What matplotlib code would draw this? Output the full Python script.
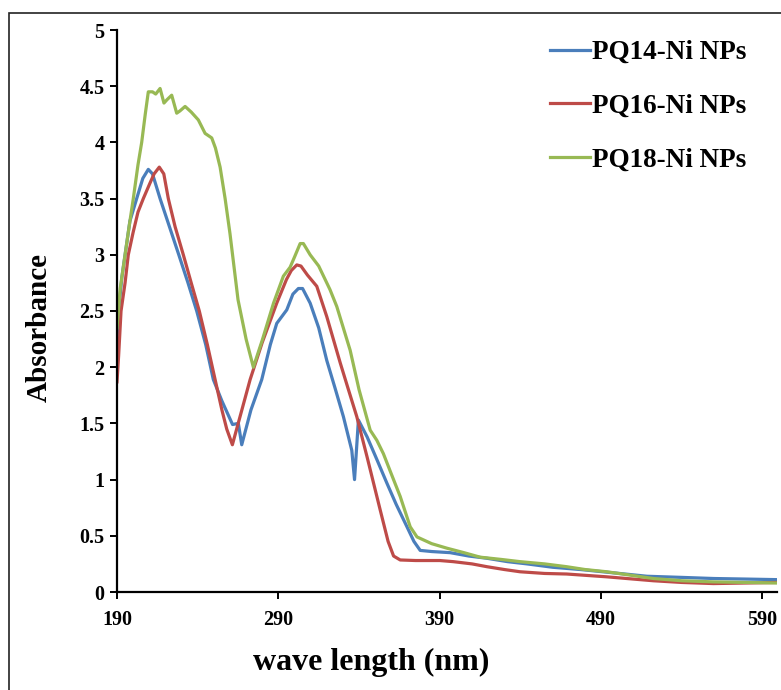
import matplotlib
matplotlib.use("Agg")
import matplotlib.pyplot as plt
from matplotlib.patches import Rectangle
from matplotlib.ticker import FuncFormatter

# UV-Vis absorbance spectra of the three nanoparticle samples
labels = ["PQ14-Ni NPs", "PQ16-Ni NPs", "PQ18-Ni NPs"]
colors = ["#4A7EBB", "#BE4B48", "#98B954"]

pq14_x = [190, 191, 193, 195, 198, 202.2, 206, 209.4, 212, 216.7, 222.5, 228.3, 234,
          239.4, 245, 249.7, 255, 261.6, 265.2, 267.3, 273, 279.7, 285, 289, 295.2,
          299, 302.4, 305, 309.7, 315, 320, 325, 330.3, 335.5, 337.2, 339.6, 345, 351,
          357.2, 363, 369.7, 374, 377.9, 385, 396.5, 408, 419.3, 432, 444.1, 460,
          477.1, 498, 518.5, 540, 559.8, 580, 599]
pq14_y = [2.25, 2.5, 2.8, 3.0, 3.3, 3.5, 3.68, 3.76, 3.72, 3.5, 3.25, 3.0, 2.75,
          2.5, 2.2, 1.89, 1.7, 1.49, 1.5, 1.31, 1.62, 1.89, 2.2, 2.39, 2.51,
          2.65, 2.70, 2.70, 2.57, 2.35, 2.06, 1.82, 1.56, 1.26, 1.0, 1.53, 1.38, 1.18,
          0.97, 0.78, 0.58, 0.45, 0.37, 0.36, 0.35, 0.32, 0.30, 0.27, 0.25, 0.22,
          0.20, 0.17, 0.14, 0.13, 0.12, 0.115, 0.11]

pq16_x = [190, 191, 192.5, 195, 197, 200, 203, 206.3, 210.5, 213, 216.2, 219, 221.8,
          226, 231.1, 236, 241, 246, 250.8, 255, 258, 261.5, 267, 272.5, 280, 289,
          295, 298, 301.4, 304, 308, 313.8, 320, 328.3, 333, 338.6, 345, 353.1, 358,
          361.4, 365.5, 375, 390, 398.4, 410, 419.3, 430, 439.8, 455, 468.7, 493.5,
          510, 522.4, 540, 559.6, 580, 599]
pq16_y = [1.87, 2.1, 2.5, 2.75, 3.0, 3.2, 3.38, 3.5, 3.64, 3.72, 3.78, 3.72, 3.5,
          3.25, 3.0, 2.75, 2.5, 2.2, 1.89, 1.62, 1.45, 1.31, 1.6, 1.89, 2.22, 2.57,
          2.78, 2.86, 2.91, 2.90, 2.82, 2.72, 2.45, 2.04, 1.82, 1.56, 1.2, 0.73, 0.45,
          0.32, 0.285, 0.28, 0.28, 0.27, 0.25, 0.225, 0.20, 0.18, 0.165, 0.16, 0.135,
          0.115, 0.10, 0.085, 0.075, 0.08, 0.085]

pq18_x = [190, 192, 195, 197.5, 200.1, 203, 205.3, 207.5, 209.4, 212, 214, 216.7,
          219.1, 221, 223.9, 227, 229, 232.2, 236, 240.4, 244.6, 248.7, 251, 253.9,
          257, 260, 265, 270, 274.5, 280, 287, 293.1, 297.3, 300, 303.5, 305.5, 309.7,
          315, 322, 326.2, 334.5, 340, 346.9, 351, 355.1, 360, 365.5, 371.7, 375.9,
          385, 394.4, 405, 415, 428, 439.8, 455, 468.7, 480, 493.5, 508, 522.4, 540,
          559.6, 580, 599]
pq18_y = [2.35, 2.7, 3.0, 3.25, 3.5, 3.8, 4.0, 4.25, 4.45, 4.45, 4.43, 4.48,
          4.35, 4.38, 4.42, 4.26, 4.28, 4.32, 4.27, 4.2, 4.08, 4.04, 3.95, 3.78,
          3.5, 3.19, 2.6, 2.25, 2.0, 2.24, 2.57, 2.81, 2.89, 2.98, 3.10, 3.10, 3.0,
          2.9, 2.69, 2.54, 2.15, 1.8, 1.44, 1.35, 1.23, 1.05, 0.85, 0.58, 0.49,
          0.43, 0.39, 0.35, 0.31, 0.29, 0.27, 0.25, 0.225, 0.20, 0.18, 0.15, 0.12, 0.10,
          0.09, 0.085, 0.08]

x_ticks = [190, 290, 390, 490, 590]
y_ticks = [0, 0.5, 1, 1.5, 2, 2.5, 3, 3.5, 4, 4.5, 5]

plt.rcParams["font.family"] = ["Liberation Serif", "DejaVu Serif"]
plt.rcParams["font.weight"] = "bold"

W, H = 781, 690
fig = plt.figure(figsize=(W / 100, H / 100), dpi=100)
ax = fig.add_axes([117 / W, 1 - 592 / H, (777 - 117) / W, (592 - 30) / H])

series = [(pq14_x, pq14_y), (pq16_x, pq16_y), (pq18_x, pq18_y)]
for (xs, ys), lab, col in zip(series, labels, colors):
    ax.plot(xs, ys, color=col, lw=2.3, label=lab, solid_joinstyle="round")

ax.set_xlim(190, 599)
ax.set_ylim(0, 5)
ax.set_xticks(x_ticks)
ax.set_yticks(y_ticks)
ax.yaxis.set_major_formatter(FuncFormatter(lambda v, p: f"{v:g}"))

for side in ("top", "right"):
    ax.spines[side].set_visible(False)
for side in ("left", "bottom"):
    ax.spines[side].set_linewidth(1.6)
    ax.spines[side].set_color("black")

ax.tick_params(axis="y", direction="out", length=5, width=1.4, pad=4, labelsize=14.5)
ax.tick_params(axis="x", direction="out", length=5, width=1.4, pad=8, labelsize=14.5)
for t in ax.get_xticklabels() + ax.get_yticklabels():
    t.set_fontweight("bold")

ax.set_xlabel("wave length (nm)", fontsize=23, fontweight="bold")
ax.set_ylabel("Absorbance", fontsize=21, fontweight="bold")
ax.xaxis.label.set_va("center")
ax.yaxis.label.set_va("center")
ax.xaxis.set_label_coords((371 - 117) / 660, (592 - 662) / 562)
ax.yaxis.set_label_coords((39 - 117) / 660, (592 - 327) / 562)

leg = fig.legend(loc="upper left", bbox_to_anchor=(550 / W, 1 - 40 / H),
                 frameon=False, fontsize=19.5, handlelength=1.47, handletextpad=0.07,
                 labelspacing=1.06, borderpad=0, borderaxespad=0)
for t in leg.get_texts():
    t.set_fontweight("bold")

# outer frame around the figure panel
fig.patches.append(Rectangle((9 / W, -0.1), 1.2, 1 - 13 / H + 0.1,
                             transform=fig.transFigure, fill=False,
                             edgecolor="#222222", linewidth=1.2, clip_on=False))

fig.savefig("out.png", dpi=100)
